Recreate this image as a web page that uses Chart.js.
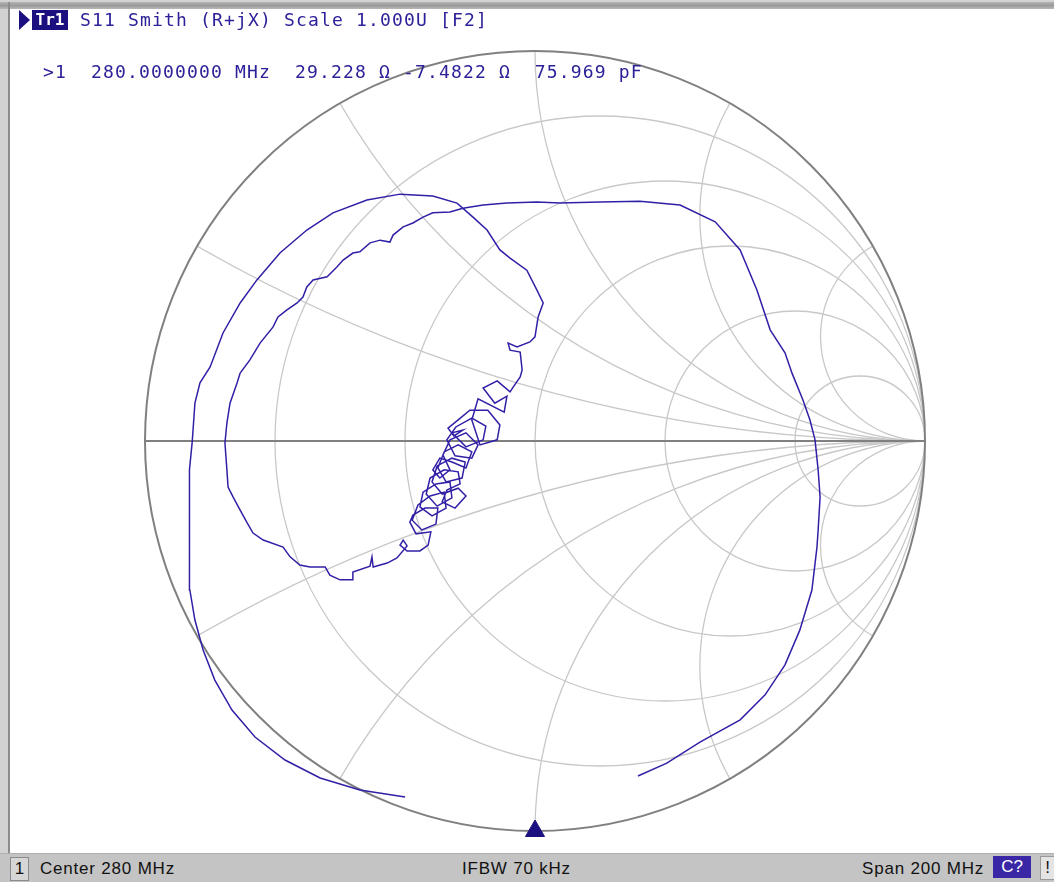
<!DOCTYPE html>
<html>
<head>
<meta charset="utf-8">
<script src="https://cdn.jsdelivr.net/npm/chart.js@4"></script>
<style>
  body { margin: 0; width: 1054px; height: 882px; background: #d2d2d2; position: relative; overflow: hidden; }
  #topband { position: absolute; left: 0; top: 2px; width: 1054px; height: 7px; background: linear-gradient(#b4b4b4, #9a9a9a, #b8b8b8); }
  #leftline { position: absolute; left: 8px; top: 2px; width: 2px; height: 852px; background: #8c8c8c; }
  #panel { position: absolute; left: 10px; top: 9px; width: 1044px; height: 844px; background: #fff; }
  #chart { position: absolute; left: 0; top: 0; }
  .hd { position: absolute; font-family: "DejaVu Sans Mono", monospace; font-size: 18px; letter-spacing: 1.16px; color: #2c2199; white-space: pre; line-height: 20px; }
  #arrow { position: absolute; left: 19px; top: 10px; width: 0; height: 0; border-top: 10px solid transparent; border-bottom: 10px solid transparent; border-left: 11px solid #1c1080; }
  #tr1 { position: absolute; left: 32px; top: 10px; width: 36px; height: 20px; background: #1c1080; color: #fff; font-family: "DejaVu Sans Mono", monospace; font-weight: bold; font-size: 16px; line-height: 20px; text-align: center; }
  #status { position: absolute; left: 0; top: 853px; width: 1054px; height: 29px; background: #c4c4c4; border-top: 1px solid #b0b0b0; font-family: "Liberation Sans", Arial, sans-serif; font-size: 17px; color: #111; }
  #status span { position: absolute; top: 5px; white-space: pre; letter-spacing: 0.8px; }
  #chan { position: absolute; left: 10px; top: 3px; width: 17px; height: 22px; background: #d6d6d6; border: 1px solid #8a8a8a; text-align: center; line-height: 22px; }
  #cbox { position: absolute; left: 993px; top: 2px; width: 38px; height: 22px; background: #3a27a6; color: #fff; text-align: center; line-height: 22px; }
  #excl { position: absolute; left: 1040px; top: 2px; width: 13px; height: 22px; background: #e4e4e4; border: 1px solid #9a9a9a; text-align: center; line-height: 22px; }
</style>
</head>
<body>
<div id="topband"></div>
<div id="leftline"></div>
<div id="panel"></div>
<canvas id="chart" width="1054" height="882"></canvas>

<div id="arrow"></div>
<div id="tr1">Tr1</div>
<div class="hd" style="left:80px; top:10px">S11 Smith (R+jX) Scale 1.000U [F2]</div>
<div class="hd" style="left:43px; top:62px">&gt;1  280.0000000 MHz  29.228 Ω -7.4822 Ω  75.969 pF</div>

<div id="status">
  <div id="chan">1</div>
  <span style="left:40px">Center 280 MHz</span>
  <span style="left:462px">IFBW 70 kHz</span>
  <span style="left:862px">Span 200 MHz</span>
  <div id="cbox">C?</div>
  <div id="excl">!</div>
</div>

<script>
// smith chart grid: resistance circles and reactance arcs
const rCircles = [0.2, 0.5, 1, 2, 5];
const xArcs = [0.2679, 0.5774, 1, 1.7321, 3.7321];

const gammaRe = [
  // outer arc, left side and top
  -0.333, -0.449, -0.551, -0.641, -0.718, -0.777, -0.821, -0.851, -0.872, -0.885,
  -0.887, -0.885, -0.879, -0.872, -0.859, -0.833, -0.800, -0.756, -0.713, -0.654,
  -0.585, -0.518, -0.431, -0.346, -0.262, -0.200, -0.159, -0.123, -0.090, -0.064,
  -0.021, 0.005, 0.021, 0.008, 0.000, -0.013, -0.046, -0.069, -0.064, -0.038,
  -0.033, -0.038, -0.056,
  // noisy cluster
  -0.064, -0.097, -0.133, -0.103, -0.072, -0.079, -0.146, -0.162, -0.141, -0.097,
  -0.090, -0.121, -0.167, -0.197, -0.223, -0.208, -0.185, -0.213, -0.177, -0.133,
  -0.126, -0.162, -0.203, -0.226, -0.205, -0.162, -0.146, -0.177, -0.218, -0.236,
  -0.218, -0.244, -0.262, -0.244, -0.213, -0.177, -0.162, -0.197, -0.233, -0.249,
  -0.228, -0.187, -0.179, -0.213, -0.251, -0.264, -0.238, -0.197, -0.177, -0.205,
  -0.238, -0.226, -0.192, -0.197, -0.233, -0.269, -0.279, -0.251, -0.213, -0.218,
  -0.254, -0.287, -0.295, -0.264, -0.228, -0.233, -0.269, -0.300, -0.315, -0.290,
  -0.254, -0.249, -0.282, -0.313, -0.321, -0.305, -0.267, -0.274, -0.295, -0.328,
  -0.346, -0.338, -0.328,
  // inner loop
  -0.354, -0.379, -0.415, -0.418, -0.423, -0.467,
  -0.467, -0.500, -0.526, -0.538, -0.577, -0.603, -0.628, -0.646, -0.697, -0.723,
  -0.738, -0.756, -0.774, -0.787, -0.790, -0.795, -0.790, -0.782, -0.764, -0.756,
  -0.731, -0.705, -0.672, -0.659, -0.636, -0.610, -0.595, -0.585, -0.569, -0.533,
  -0.508, -0.492, -0.467, -0.449, -0.423, -0.397, -0.372, -0.364, -0.338, -0.313,
  -0.287, -0.262, -0.218, -0.185, -0.133, -0.072, 0.005, 0.064, 0.167, 0.269,
  // right arc
  0.372, 0.462, 0.526, 0.569, 0.603, 0.641, 0.659, 0.687, 0.705, 0.718,
  0.726, 0.731, 0.726, 0.723, 0.710, 0.679, 0.641, 0.590, 0.526, 0.423,
  0.338, 0.264
];
const gammaIm = [
  -0.913, -0.895, -0.864, -0.818, -0.759, -0.690, -0.613, -0.536, -0.459, -0.382,
  -0.228, -0.074, -0.003, 0.097, 0.149, 0.190, 0.277, 0.354, 0.413, 0.482,
  0.541, 0.585, 0.618, 0.633, 0.628, 0.610, 0.574, 0.541, 0.490, 0.469,
  0.438, 0.387, 0.354, 0.318, 0.267, 0.254, 0.241, 0.251, 0.233, 0.228,
  0.182, 0.164, 0.138,
  0.126, 0.154, 0.136, 0.097, 0.115, 0.074, 0.108, 0.054, -0.010, 0.003,
  0.041, 0.079, 0.079, 0.054, 0.033, 0.013, 0.028, 0.021, -0.015, 0.003,
  0.038, 0.059, 0.036, 0.003, -0.038, -0.044, -0.010, 0.021, 0.003, -0.036,
  -0.074, -0.095, -0.074, -0.044, -0.054, -0.069, -0.028, -0.010, -0.028, -0.069,
  -0.105, -0.095, -0.054, -0.044, -0.064, -0.105, -0.136, -0.121, -0.141, -0.172,
  -0.156, -0.126, -0.110, -0.079, -0.074, -0.095, -0.136, -0.167, -0.146, -0.105,
  -0.110, -0.131, -0.169, -0.192, -0.172, -0.131, -0.141, -0.164, -0.203, -0.228,
  -0.213, -0.172, -0.172, -0.190, -0.208, -0.238, -0.233, -0.267, -0.282, -0.282,
  -0.267, -0.254, -0.269,
  -0.300, -0.313, -0.323, -0.297, -0.321, -0.336,
  -0.356, -0.356, -0.344, -0.323, -0.323, -0.318, -0.297, -0.272, -0.254, -0.236,
  -0.210, -0.177, -0.144, -0.118, -0.074, -0.005, 0.046, 0.097, 0.149, 0.174,
  0.208, 0.251, 0.292, 0.318, 0.336, 0.354, 0.369, 0.395, 0.413, 0.421,
  0.446, 0.464, 0.482, 0.485, 0.508, 0.515, 0.510, 0.528, 0.549, 0.559,
  0.574, 0.585, 0.587, 0.597, 0.605, 0.610, 0.613, 0.610, 0.613, 0.615,
  0.605, 0.562, 0.490, 0.387, 0.285, 0.226, 0.174, 0.105, 0.054, 0.003,
  -0.074, -0.144, -0.228, -0.272, -0.382, -0.485, -0.574, -0.651, -0.715, -0.772,
  -0.826, -0.859
];

// stimulus pointer at the bottom of the chart
const pointerRe = [0];
const pointerIm = [-1];

const tracePoints = gammaRe.map((v, i) => ({ x: v, y: gammaIm[i] }));
const pointerPoints = pointerRe.map((v, i) => ({ x: v, y: pointerIm[i] }));

// draw the smith grid with the chart's own scales
const smithGrid = {
  id: 'smithGrid',
  beforeDatasetsDraw(chart) {
    const ctx = chart.ctx;
    const xs = chart.scales.x, ys = chart.scales.y;
    const cx = xs.getPixelForValue(0), cy = ys.getPixelForValue(0);
    const unit = xs.getPixelForValue(1) - cx;
    ctx.save();
    ctx.beginPath();
    ctx.arc(cx, cy, unit, 0, Math.PI * 2);
    ctx.clip();
    ctx.strokeStyle = '#c8c8c8';
    ctx.lineWidth = 1.3;
    rCircles.forEach(r => {
      ctx.beginPath();
      ctx.arc(xs.getPixelForValue(r / (1 + r)), cy, unit / (1 + r), 0, Math.PI * 2);
      ctx.stroke();
    });
    xArcs.forEach(v => {
      [v, -v].forEach(s => {
        ctx.beginPath();
        ctx.arc(xs.getPixelForValue(1), ys.getPixelForValue(1 / s), Math.abs(unit / s), 0, Math.PI * 2);
        ctx.stroke();
      });
    });
    ctx.restore();

    ctx.save();
    ctx.strokeStyle = '#808080';
    ctx.lineWidth = 2;
    ctx.beginPath();
    ctx.arc(cx, cy, unit, 0, Math.PI * 2);
    ctx.stroke();
    ctx.beginPath();
    ctx.moveTo(xs.getPixelForValue(-1), cy);
    ctx.lineTo(xs.getPixelForValue(1), cy);
    ctx.stroke();
    ctx.restore();
  }
};

new Chart(document.getElementById('chart'), {
  type: 'scatter',
  data: {
    datasets: [{
      data: tracePoints,
      showLine: true,
      borderColor: '#3020a6',
      borderWidth: 1.5,
      pointRadius: 0,
      tension: 0
    }, {
      data: pointerPoints,
      pointStyle: 'triangle',
      pointRadius: 11,
      backgroundColor: '#1c1080',
      borderColor: '#1c1080',
      clip: false
    }]
  },
  options: {
    responsive: false,
    animation: false,
    layout: { padding: { left: 145, right: 129, top: 51, bottom: 51 } },
    plugins: { legend: { display: false }, tooltip: { enabled: false } },
    scales: {
      x: { type: 'linear', min: -1, max: 1, display: false },
      y: { type: 'linear', min: -1, max: 1, display: false }
    }
  },
  plugins: [smithGrid]
});
</script>
</body>
</html>
